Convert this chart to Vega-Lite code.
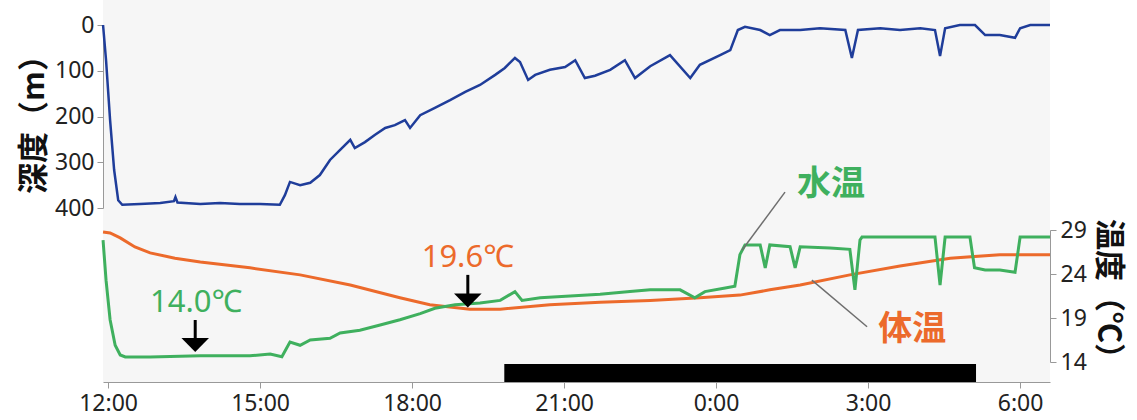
{
  "$schema": "https://vega.github.io/schema/vega-lite/v6.json",
  "width": 947,
  "height": 382,
  "autosize": {"type": "none"},
  "padding": {"left": 103, "top": 0, "right": 87, "bottom": 38},
  "background": "white",
  "config": {
    "view": {"fill": "#f6f6f6", "stroke": null},
    "axis": {
      "grid": false,
      "domainColor": "#999999",
      "tickColor": "#999999",
      "tickSize": 6,
      "labelFont": "Noto Sans",
      "labelFontSize": 23,
      "labelColor": "#222222",
      "titleFont": "Noto Sans CJK JP",
      "titleFontSize": 31,
      "titleFontWeight": "bold",
      "titleColor": "#111111"
    }
  },
  "datasets": {
    "depth": [
      {"t": -0.099, "d": 0}, {"t": -0.04, "d": 77}, {"t": 0.04, "d": 208}, {"t": 0.12, "d": 317}, {"t": 0.2, "d": 383}, {"t": 0.28, "d": 393},
      {"t": 0.63, "d": 391}, {"t": 1.03, "d": 389}, {"t": 1.3, "d": 385}, {"t": 1.33, "d": 376}, {"t": 1.37, "d": 388}, {"t": 1.82, "d": 391},
      {"t": 2.21, "d": 389}, {"t": 2.6, "d": 391}, {"t": 3.0, "d": 391}, {"t": 3.39, "d": 393},
      {"t": 3.49, "d": 372}, {"t": 3.59, "d": 343}, {"t": 3.79, "d": 350}, {"t": 3.99, "d": 345}, {"t": 4.18, "d": 328}, {"t": 4.38, "d": 295},
      {"t": 4.58, "d": 273}, {"t": 4.78, "d": 251}, {"t": 4.87, "d": 269}, {"t": 5.07, "d": 256}, {"t": 5.27, "d": 240}, {"t": 5.47, "d": 225},
      {"t": 5.66, "d": 219}, {"t": 5.86, "d": 208}, {"t": 5.96, "d": 225}, {"t": 6.16, "d": 197}, {"t": 6.45, "d": 181}, {"t": 6.75, "d": 164},
      {"t": 7.05, "d": 146}, {"t": 7.34, "d": 131}, {"t": 7.64, "d": 109}, {"t": 7.83, "d": 94}, {"t": 8.03, "d": 72}, {"t": 8.13, "d": 81},
      {"t": 8.29, "d": 120}, {"t": 8.43, "d": 109}, {"t": 8.72, "d": 98}, {"t": 9.02, "d": 92}, {"t": 9.22, "d": 77}, {"t": 9.41, "d": 116},
      {"t": 9.61, "d": 111}, {"t": 9.91, "d": 98}, {"t": 10.2, "d": 77}, {"t": 10.4, "d": 116}, {"t": 10.7, "d": 90}, {"t": 11.09, "d": 66},
      {"t": 11.49, "d": 116}, {"t": 11.68, "d": 87}, {"t": 12.08, "d": 66}, {"t": 12.28, "d": 55}, {"t": 12.43, "d": 11}, {"t": 12.57, "d": 4},
      {"t": 12.87, "d": 11}, {"t": 13.06, "d": 22}, {"t": 13.26, "d": 11}, {"t": 13.66, "d": 11}, {"t": 14.05, "d": 7}, {"t": 14.55, "d": 11},
      {"t": 14.68, "d": 72}, {"t": 14.8, "d": 11}, {"t": 15.24, "d": 7}, {"t": 15.63, "d": 11}, {"t": 16.03, "d": 7}, {"t": 16.32, "d": 11},
      {"t": 16.42, "d": 68}, {"t": 16.52, "d": 7}, {"t": 16.81, "d": 0}, {"t": 17.11, "d": 0}, {"t": 17.31, "d": 22}, {"t": 17.6, "d": 22},
      {"t": 17.9, "d": 28}, {"t": 18.0, "d": 7}, {"t": 18.2, "d": 0}, {"t": 18.59, "d": 0}
    ],
    "water": [
      {"t": -0.099, "w": 27.86}, {"t": -0.04, "w": 23.3}, {"t": 0.04, "w": 18.8}, {"t": 0.14, "w": 15.9}, {"t": 0.24, "w": 14.8}, {"t": 0.34, "w": 14.57},
      {"t": 0.83, "w": 14.57}, {"t": 1.82, "w": 14.7}, {"t": 2.8, "w": 14.7}, {"t": 3.2, "w": 14.9}, {"t": 3.43, "w": 14.6},
      {"t": 3.59, "w": 16.27}, {"t": 3.79, "w": 15.9}, {"t": 3.99, "w": 16.5}, {"t": 4.38, "w": 16.7}, {"t": 4.58, "w": 17.3}, {"t": 4.97, "w": 17.6},
      {"t": 5.37, "w": 18.2}, {"t": 5.76, "w": 18.8}, {"t": 6.16, "w": 19.5}, {"t": 6.45, "w": 20.1}, {"t": 6.85, "w": 20.5}, {"t": 7.34, "w": 20.7},
      {"t": 7.74, "w": 21.0}, {"t": 8.03, "w": 22.0}, {"t": 8.17, "w": 21.0}, {"t": 8.53, "w": 21.3}, {"t": 9.12, "w": 21.5}, {"t": 9.71, "w": 21.7},
      {"t": 10.3, "w": 22.0}, {"t": 10.7, "w": 22.2}, {"t": 11.29, "w": 22.2}, {"t": 11.58, "w": 21.3}, {"t": 11.78, "w": 22.0}, {"t": 12.18, "w": 22.4},
      {"t": 12.37, "w": 22.6}, {"t": 12.47, "w": 26.2}, {"t": 12.57, "w": 27.3}, {"t": 12.87, "w": 27.3}, {"t": 12.97, "w": 24.7}, {"t": 13.06, "w": 27.3},
      {"t": 13.46, "w": 27.1}, {"t": 13.56, "w": 24.7}, {"t": 13.66, "w": 27.1}, {"t": 14.25, "w": 26.95}, {"t": 14.64, "w": 26.8}, {"t": 14.74, "w": 22.2},
      {"t": 14.84, "w": 27.86}, {"t": 14.88, "w": 28.2}, {"t": 15.63, "w": 28.2}, {"t": 16.32, "w": 28.2}, {"t": 16.42, "w": 22.75}, {"t": 16.52, "w": 28.2},
      {"t": 17.01, "w": 28.2}, {"t": 17.1, "w": 24.7}, {"t": 17.31, "w": 24.45}, {"t": 17.6, "w": 24.45}, {"t": 17.9, "w": 24.2}, {"t": 18.0, "w": 28.2},
      {"t": 18.59, "w": 28.2}
    ],
    "body": [
      {"t": -0.099, "b": 28.77}, {"t": 0.04, "b": 28.66}, {"t": 0.24, "b": 28.1}, {"t": 0.53, "b": 27.07}, {"t": 0.83, "b": 26.4}, {"t": 1.32, "b": 25.8},
      {"t": 1.82, "b": 25.36}, {"t": 2.8, "b": 24.7}, {"t": 3.79, "b": 23.9}, {"t": 4.78, "b": 22.75}, {"t": 5.76, "b": 21.3}, {"t": 6.35, "b": 20.5},
      {"t": 7.14, "b": 20.0}, {"t": 7.74, "b": 20.0}, {"t": 8.72, "b": 20.5}, {"t": 9.71, "b": 20.8}, {"t": 10.7, "b": 21.0}, {"t": 11.68, "b": 21.3},
      {"t": 12.47, "b": 21.6}, {"t": 13.06, "b": 22.2}, {"t": 13.66, "b": 22.75}, {"t": 14.64, "b": 23.9}, {"t": 15.63, "b": 24.9}, {"t": 16.62, "b": 25.8},
      {"t": 17.6, "b": 26.2}, {"t": 18.59, "b": 26.2}
    ],
    "night": [{"start": 7.82, "end": 17.13}],
    "arrows": [
      {"t": 1.72, "top": 18.77, "head": 15.93},
      {"t": 7.1, "top": 23.9, "head": 20.99}
    ],
    "leaders": [
      {"t1": 13.36, "v1": 33.3, "t2": 12.51, "v2": 26.7},
      {"t1": 13.89, "v1": 23.3, "t2": 14.98, "v2": 18.0}
    ]
  },
  "layer": [
    {
      "data": {"name": "depth"},
      "mark": {"type": "line", "color": "#1f3d9a", "strokeWidth": 2.5},
      "encoding": {
        "x": {"field": "t", "type": "quantitative", "title": null,
              "scale": {"domain": [-0.1, 18.59], "nice": false, "zero": false},
              "axis": {"values": [0, 3, 6, 9, 12, 15, 18], "labelExpr": "((datum.value + 12) % 24) + ':00'", "labelPadding": 4, "title": null}},
        "y": {"field": "d", "type": "quantitative", "title": "深度（m）",
              "scale": {"domain": [0, 400], "range": [25, 208], "nice": false, "zero": false},
              "axis": {"orient": "left", "values": [0, 100, 200, 300, 400], "labelPadding": 3, "titlePadding": 4}}
      }
    },
    {
      "layer": [
        {
          "data": {"name": "night"},
          "mark": {"type": "rect", "color": "#000000"},
          "encoding": {
            "x": {"field": "start", "type": "quantitative", "title": null},
            "x2": {"field": "end"},
            "y": {"datum": 13.77, "type": "quantitative", "title": "温度（℃）",
                  "scale": {"domain": [14, 29], "range": [362, 230], "nice": false, "zero": false},
                  "axis": {"orient": "right", "values": [14, 19, 24, 29], "labelPadding": 4, "titlePadding": 5}},
            "y2": {"datum": 11.73}
          }
        },
        {
          "data": {"name": "body"},
          "mark": {"type": "line", "color": "#ec6a2b", "strokeWidth": 3},
          "encoding": {
            "x": {"field": "t", "type": "quantitative", "title": null},
            "y": {"field": "b", "type": "quantitative", "title": "温度（℃）"}
          }
        },
        {
          "data": {"name": "water"},
          "mark": {"type": "line", "color": "#3fb05e", "strokeWidth": 3},
          "encoding": {
            "x": {"field": "t", "type": "quantitative", "title": null},
            "y": {"field": "w", "type": "quantitative", "title": "温度（℃）"}
          }
        },
        {
          "data": {"name": "arrows"},
          "mark": {"type": "rule", "color": "#000000", "strokeWidth": 3},
          "encoding": {
            "x": {"field": "t", "type": "quantitative", "title": null},
            "y": {"field": "top", "type": "quantitative", "title": "温度（℃）"},
            "y2": {"field": "head"}
          }
        },
        {
          "data": {"name": "arrows"},
          "mark": {"type": "point", "shape": "M-1,-0.5L1,-0.5L0,0.5Z", "filled": true, "color": "#000000", "size": 760, "opacity": 1},
          "encoding": {
            "x": {"field": "t", "type": "quantitative", "title": null},
            "y": {"field": "head", "type": "quantitative", "title": "温度（℃）"}
          }
        },
        {
          "data": {"name": "leaders"},
          "mark": {"type": "rule", "color": "#6e6e6e", "strokeWidth": 1.5},
          "encoding": {
            "x": {"field": "t1", "type": "quantitative", "title": null},
            "x2": {"field": "t2"},
            "y": {"field": "v1", "type": "quantitative", "title": "温度（℃）"},
            "y2": {"field": "v2"}
          }
        },
        {
          "data": {"values": [{"t": 1.74, "v": 20.7, "label": "14.0℃"}]},
          "mark": {"type": "text", "color": "#3fb05e", "font": "Noto Sans", "fontSize": 31, "align": "center", "baseline": "middle"},
          "encoding": {
            "x": {"field": "t", "type": "quantitative", "title": null},
            "y": {"field": "v", "type": "quantitative", "title": "温度（℃）"},
            "text": {"field": "label"}
          }
        },
        {
          "data": {"values": [{"t": 7.1, "v": 25.8, "label": "19.6℃"}]},
          "mark": {"type": "text", "color": "#ec6a2b", "font": "Noto Sans", "fontSize": 31, "align": "center", "baseline": "middle"},
          "encoding": {
            "x": {"field": "t", "type": "quantitative", "title": null},
            "y": {"field": "v", "type": "quantitative", "title": "温度（℃）"},
            "text": {"field": "label"}
          }
        },
        {
          "data": {"values": [{"t": 14.27, "v": 34.1, "label": "水温"}]},
          "mark": {"type": "text", "color": "#3fb05e", "font": "Noto Sans CJK JP", "fontWeight": "bold", "fontSize": 34, "align": "center", "baseline": "middle"},
          "encoding": {
            "x": {"field": "t", "type": "quantitative", "title": null},
            "y": {"field": "v", "type": "quantitative", "title": "温度（℃）"},
            "text": {"field": "label"}
          }
        },
        {
          "data": {"values": [{"t": 15.87, "v": 17.6, "label": "体温"}]},
          "mark": {"type": "text", "color": "#ec6a2b", "font": "Noto Sans CJK JP", "fontWeight": "bold", "fontSize": 34, "align": "center", "baseline": "middle"},
          "encoding": {
            "x": {"field": "t", "type": "quantitative", "title": null},
            "y": {"field": "v", "type": "quantitative", "title": "温度（℃）"},
            "text": {"field": "label"}
          }
        }
      ]
    }
  ],
  "resolve": {"scale": {"y": "independent"}}
}
